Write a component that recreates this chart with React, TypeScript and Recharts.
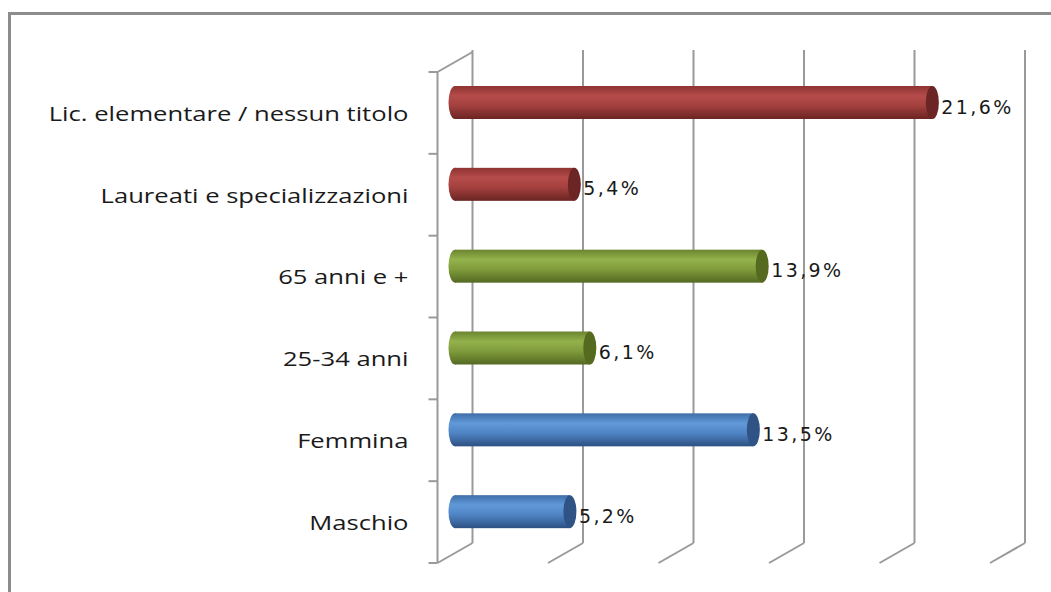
import React from "react";
import { Bar, BarChart, CartesianGrid, XAxis, YAxis } from "recharts";

const categories = [
  "Lic. elementare / nessun titolo",
  "Laureati e specializzazioni",
  "65 anni e +",
  "25-34 anni",
  "Femmina",
  "Maschio",
];
const values = [21.6, 5.4, 13.9, 6.1, 13.5, 5.2];
const groups = ["red", "red", "green", "green", "blue", "blue"];
const xTicks = [0, 5, 10, 15, 20, 25];

const data = categories.map((name, i) => ({ name, value: values[i], group: groups[i] }));

const W = 1051;
const H = 592;
const Y_AXIS_W = 420;
const M = { top: 62, right: 43.5, bottom: 39, left: 455 - Y_AXIS_W };
const PLOT_H = H - M.top - M.bottom;
const BAND = PLOT_H / categories.length;
const DX = 17.5; // half depth offset
const DY = 10;
const GRID = "#9a9a9a";

const PALETTE: Record<string, { top: string; light: string; mid: string; bottom: string; cap: string }> = {
  red: { top: "#8f3432", light: "#b54c4a", mid: "#a3403e", bottom: "#6a2523", cap: "#6b2524" },
  green: { top: "#6b8430", light: "#93b24c", mid: "#7f9b3b", bottom: "#546923", cap: "#55691f" },
  blue: { top: "#3e6ea8", light: "#6199d8", mid: "#4f84c4", bottom: "#2c5081", cap: "#2f5384" },
};

function Cylinder(props: any) {
  const { x, y, width, height, payload } = props;
  if (width == null || height == null) return null;
  const g = payload.group;
  const c = PALETTE[g];
  const rx = 6.5;
  const ry = height / 2;
  const cy = y + ry;
  return (
    <g>
      <rect x={x} y={y} width={width} height={height} fill={`url(#grad-${g})`} />
      <ellipse cx={x} cy={cy} rx={rx} ry={ry} fill={`url(#grad-${g})`} />
      <ellipse cx={x + width} cy={cy} rx={rx} ry={ry} fill={c.cap} />
    </g>
  );
}

function GridLine(props: any) {
  const { x1, y1, y2, index } = props;
  return (
    <g key={`g-${index}`}>
      <line x1={x1 + DX} y1={y1 - DY - 2} x2={x1 + DX} y2={y2 - DY} stroke={GRID} strokeWidth={2} />
      <line x1={x1 - DX} y1={y2 + DY} x2={x1 + DX} y2={y2 - DY} stroke={GRID} strokeWidth={2} />
      {index === 0 && (
        <g>
          <line x1={x1 - DX} y1={y1 + DY} x2={x1 - DX} y2={y2 + DY} stroke={GRID} strokeWidth={2} />
          <line x1={x1 - DX} y1={y1 + DY} x2={x1 + DX} y2={y1 - DY} stroke={GRID} strokeWidth={2} />
        </g>
      )}
    </g>
  );
}

function CategoryTick(props: any) {
  const { x, y, payload, index } = props;
  const ax = x - DX;
  return (
    <g>
      <line x1={ax - 9} y1={y + DY + BAND / 2} x2={ax} y2={y + DY + BAND / 2} stroke={GRID} strokeWidth={2} />
      {index === 0 && (
        <line x1={ax - 9} y1={y + DY - BAND / 2} x2={ax} y2={y + DY - BAND / 2} stroke={GRID} strokeWidth={2} />
      )}
      <g transform={`translate(${ax - 29}, ${y + DY}) scale(1.28, 1)`}>
        <text
          x={0}
          y={0}
          textAnchor="end"
          dominantBaseline="central"
          fontFamily="'Open Sans', sans-serif"
          fontSize={20}
          fill="#1a1a1a"
        >
          {payload.value}
        </text>
      </g>
    </g>
  );
}

function ValueLabel(props: any) {
  const { x, y, width, height, value } = props;
  return (
    <text
      x={x + width + 9}
      y={y + height / 2 + 4}
      dominantBaseline="central"
      fontFamily="'DejaVu Sans', sans-serif"
      fontSize={19}
      letterSpacing={2.4}
      fill="#1a1a1a"
    >
      {`${Number(value).toFixed(1).replace(".", ",")}%`}
    </text>
  );
}

export default function App() {
  return (
    <div style={{ position: "fixed", left: 0, top: 0, width: W, height: H, overflow: "hidden", background: "#fff" }}>
      <div
        style={{
          position: "absolute",
          left: 8,
          top: 12,
          width: 1200,
          height: 800,
          borderTop: "3px solid #8c8c8c",
          borderLeft: "3px solid #8c8c8c",
        }}
      />
      <div style={{ position: "absolute", left: 0, top: 0 }}>
        <BarChart width={W} height={H} data={data} layout="vertical" margin={M} barCategoryGap={0}>
          <defs>
            {Object.keys(PALETTE).map((k) => (
              <linearGradient key={k} id={`grad-${k}`} x1="0" y1="0" x2="0" y2="1">
                <stop offset="0%" stopColor={PALETTE[k].top} />
                <stop offset="30%" stopColor={PALETTE[k].light} />
                <stop offset="60%" stopColor={PALETTE[k].mid} />
                <stop offset="100%" stopColor={PALETTE[k].bottom} />
              </linearGradient>
            ))}
          </defs>
          <CartesianGrid horizontal={false} vertical={GridLine} />
          <XAxis
            type="number"
            domain={[0, 25]}
            ticks={xTicks}
            interval={0}
            height={0}
            tick={() => <g />}
            axisLine={false}
            tickLine={false}
          />
          <YAxis
            type="category"
            dataKey="name"
            width={Y_AXIS_W}
            tickSize={0}
            tickMargin={0}
            axisLine={false}
            tickLine={false}
            tick={CategoryTick}
            interval={0}
          />
          <Bar dataKey="value" barSize={33} shape={Cylinder} label={ValueLabel} isAnimationActive={false} />
        </BarChart>
      </div>
    </div>
  );
}
